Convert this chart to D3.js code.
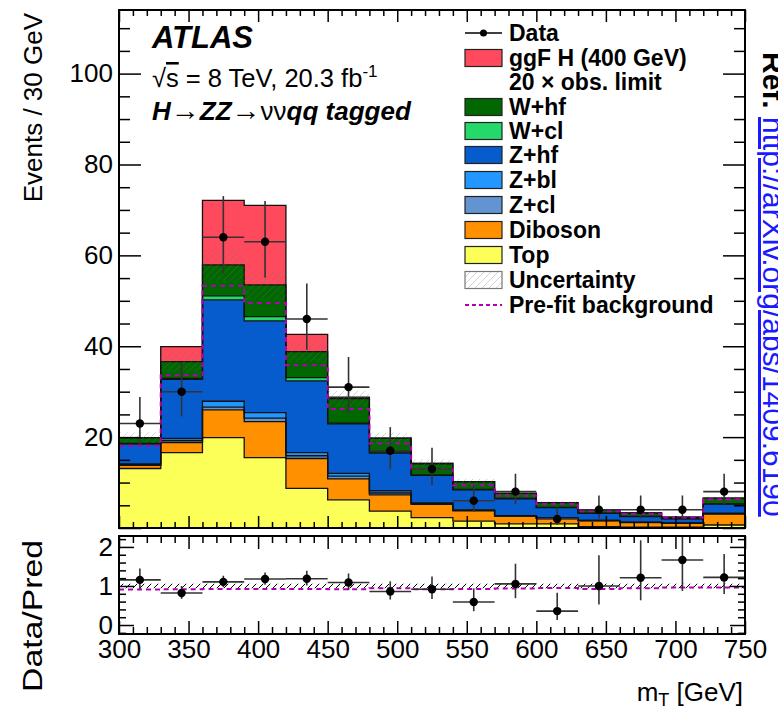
<!DOCTYPE html>
<html>
<head>
<meta charset="utf-8">
<script src="https://cdn.jsdelivr.net/npm/d3@7"></script>
<style>
  body { margin: 0; background: #fff; }
  svg { display: block; font-family: "Liberation Sans", Arial, Helvetica, sans-serif; }
</style>
</head>
<body>
<svg id="chart" width="778" height="710"></svg>
<script>
// ---- binning (m_T in GeV, 30 GeV bins) ----
const binLow = [300, 330, 360, 390, 420, 450, 480, 510, 540, 570, 600, 630, 660, 690, 720];
const binWidth = 30;

// ---- observed events ----
const dataCounts  = [23, 30, 64, 63, 46, 31, 17, 13, 6, 8, 2, 4, 4, 4, 8];
const dataErrUp   = [5.85, 6.55, 9.05, 8.98, 7.81, 6.64, 5.20, 4.67, 3.58, 3.94, 2.64, 3.16, 3.16, 3.16, 3.94];
const dataErrDown = [4.77, 5.46, 8.00, 7.93, 6.76, 5.55, 4.08, 3.56, 2.38, 2.77, 1.29, 1.91, 1.91, 1.91, 2.77];

// ---- post-fit background components (stacked bottom to top) ----
const topBkg  = [13.1, 16.6, 19.9, 15.5, 8.7, 6.2, 3.7, 2.3, 1.5, 0.9, 0.9, 0.3, 0.2, 0.2, 0.66];
const diboson = [0.7, 2.2, 6.1, 7.9, 6.6, 4.6, 3.6, 2.9, 2.3, 1.7, 1.2, 1.3, 1.0, 0.8, 2.4];
const zcl     = [0.15, 0.4, 0.6, 0.8, 0.6, 0.6, 0.4, 0.15, 0.1, 0.05, 0.05, 0.05, 0.05, 0.05, 0.1];
const zbl     = [0.15, 0.5, 1.3, 1.2, 0.7, 0.6, 0.5, 0.15, 0.1, 0.05, 0.05, 0.05, 0.05, 0.05, 0.1];
const zhf     = [4.4, 13.0, 22.3, 20.2, 15.8, 10.9, 8.3, 6.1, 4.4, 3.7, 2.3, 1.5, 1.2, 0.9, 2.0];
const wcl     = [0.1, 0.2, 0.9, 0.9, 0.7, 0.2, 0.2, 0.1, 0.1, 0.1, 0.05, 0.05, 0.05, 0.05, 0.05];
const whf     = [1.3, 3.7, 6.8, 7.0, 5.7, 5.4, 3.1, 2.5, 1.7, 1.1, 1.05, 0.75, 0.75, 0.35, 1.25];
// ggF H (400 GeV) scaled to 20 x observed limit
const signal  = [0, 3.3, 14.2, 17.5, 3.8, 0.3, 0, 0, 0, 0, 0, 0, 0, 0, 0];
// pre-fit total background
const prefit  = [18.1, 33.6, 53.3, 49.5, 35.8, 26.2, 18.6, 13.0, 9.4, 7.1, 5.3, 3.7, 3.1, 2.3, 6.3];
// relative background uncertainty
const bkgRelUnc = [0.06, 0.06, 0.06, 0.06, 0.06, 0.06, 0.06, 0.06, 0.06, 0.06, 0.06, 0.06, 0.06, 0.06, 0.06];

// ---- axis ticks ----
const xMajor = [300, 350, 400, 450, 500, 550, 600, 650, 700, 750];
const yMainLabels = [20, 40, 60, 80, 100];
const yRatioLabels = [0, 1, 2];

// ---- components, colours, legend ----
const components = [
  { key: "Top",     values: topBkg,  color: "#fbff57" },
  { key: "Diboson", values: diboson, color: "#ff9100" },
  { key: "Z+cl",    values: zcl,     color: "#6194d0" },
  { key: "Z+bl",    values: zbl,     color: "#2297ff" },
  { key: "Z+hf",    values: zhf,     color: "#075ccd" },
  { key: "W+cl",    values: wcl,     color: "#24d86a" },
  { key: "W+hf",    values: whf,     color: "#016701" },
  { key: "ggF H",   values: signal,  color: "#ff4a5d" }
];
const legendItems = [
  { type: "data",  label: "Data" },
  { type: "box",   label: "ggF H (400 GeV)", color: "#ff4a5d" },
  { type: "none",  label: "20 \u00d7 obs. limit" },
  { type: "box",   label: "W+hf",     color: "#016701" },
  { type: "box",   label: "W+cl",     color: "#24d86a" },
  { type: "box",   label: "Z+hf",     color: "#075ccd" },
  { type: "box",   label: "Z+bl",     color: "#2297ff" },
  { type: "box",   label: "Z+cl",     color: "#6194d0" },
  { type: "box",   label: "Diboson",  color: "#ff9100" },
  { type: "box",   label: "Top",      color: "#fbff57" },
  { type: "hatch", label: "Uncertainty" },
  { type: "dash",  label: "Pre-fit background" }
];

const svg = d3.select("#chart");
const frameL = 119, frameR = 745;
const mainTop = 10, mainBot = 528;
const ratTop = 536, ratBot = 634;
const prefitColor = "#b300b3";

const x = d3.scaleLinear().domain([300, 750]).range([frameL, frameR]);
const yMain = d3.scaleLinear().domain([0, 114]).range([mainBot, mainTop]);
const yRat = d3.scaleLinear().domain([-0.23, 2.28]).range([ratBot, ratTop]);

// hatch patterns
const defs = svg.append("defs");
function hatch(id, color, w) {
  const p = defs.append("pattern").attr("id", id).attr("patternUnits", "userSpaceOnUse")
    .attr("width", 7).attr("height", 7);
  p.append("path").attr("d", "M-1,1 l2,-2 M0,7 l7,-7 M6,8 l2,-2")
    .attr("stroke", color).attr("stroke-width", w);
}
hatch("hatchMain", "rgba(110,110,110,0.3)", 1);
hatch("hatchRatio", "#000", 1);
defs.append("clipPath").attr("id", "clipMain").append("rect")
  .attr("x", frameL).attr("y", mainTop).attr("width", frameR - frameL).attr("height", mainBot - mainTop);
defs.append("clipPath").attr("id", "clipRatio").append("rect")
  .attr("x", frameL).attr("y", ratTop).attr("width", frameR - frameL).attr("height", ratBot - ratTop);

// step helper: one point per bin plus the closing edge
function stepPts(arr, f) {
  const pts = arr.map((v, i) => ({ x: binLow[i], v: f ? f(v, i) : v }));
  pts.push({ x: binLow[binLow.length - 1] + binWidth, v: pts[pts.length - 1].v });
  return pts;
}

// ---- main panel ----
const rows = binLow.map((b, i) => {
  const r = { bin: b };
  components.forEach(c => r[c.key] = c.values[i]);
  return r;
});
const stacked = d3.stack().keys(components.map(c => c.key))(rows);

const gMain = svg.append("g").attr("clip-path", "url(#clipMain)");
const areaStep = d3.area().curve(d3.curveStepAfter)
  .x(d => x(d.x)).y0(d => yMain(d.lo)).y1(d => yMain(d.hi));
const lineStepMain = d3.line().curve(d3.curveStepAfter).x(d => x(d.x)).y(d => yMain(d.v));

stacked.forEach((s, k) => {
  const pts = s.map((d, i) => ({ x: binLow[i], lo: d[0], hi: d[1] }));
  pts.push({ x: 750, lo: pts[pts.length - 1].lo, hi: pts[pts.length - 1].hi });
  gMain.append("path").attr("d", areaStep(pts)).attr("fill", components[k].color);
});
stacked.forEach(s => {
  const pts = stepPts(s.map(d => d[1]));
  gMain.append("path").attr("d", lineStepMain(pts)).attr("fill", "none")
    .attr("stroke", "#111").attr("stroke-width", 1.3);
});

const bkgTotal = binLow.map((b, i) =>
  topBkg[i] + diboson[i] + zcl[i] + zbl[i] + zhf[i] + wcl[i] + whf[i]);

// uncertainty band on total background
const bandPts = bkgTotal.map((t, i) => ({ x: binLow[i], lo: t * (1 - bkgRelUnc[i]), hi: t * (1 + bkgRelUnc[i]) }));
bandPts.push({ x: 750, lo: bandPts[14].lo, hi: bandPts[14].hi });
gMain.append("path").attr("d", areaStep(bandPts)).attr("fill", "url(#hatchMain)");

// pre-fit background
gMain.append("path").attr("d", lineStepMain(stepPts(prefit))).attr("fill", "none")
  .attr("stroke", prefitColor).attr("stroke-width", 2).attr("stroke-dasharray", "5,4");

// data
const gData = gMain.append("g");
dataCounts.forEach((n, i) => {
  const cx = x(binLow[i] + binWidth / 2);
  gData.append("line").attr("x1", x(binLow[i])).attr("x2", x(binLow[i] + binWidth))
    .attr("y1", yMain(n)).attr("y2", yMain(n)).attr("stroke", "#333").attr("stroke-width", 1.6);
  gData.append("line").attr("x1", cx).attr("x2", cx)
    .attr("y1", yMain(n - dataErrDown[i])).attr("y2", yMain(n + dataErrUp[i]))
    .attr("stroke", "#333").attr("stroke-width", 1.6);
  gData.append("circle").attr("cx", cx).attr("cy", yMain(n)).attr("r", 4.2).attr("fill", "#000");
});

// ---- ratio panel ----
const gRat = svg.append("g").attr("clip-path", "url(#clipRatio)");
const areaRat = d3.area().curve(d3.curveStepAfter)
  .x(d => x(d.x)).y0(d => yRat(d.lo)).y1(d => yRat(d.hi));
const lineRat = d3.line().curve(d3.curveStepAfter).x(d => x(d.x)).y(d => yRat(d.v));
const ratBand = bkgRelUnc.map((u, i) => ({ x: binLow[i], lo: 1 - u, hi: 1 + u }));
ratBand.push({ x: 750, lo: ratBand[14].lo, hi: ratBand[14].hi });
gRat.append("path").attr("d", areaRat(ratBand)).attr("fill", "url(#hatchRatio)");
gRat.append("path").attr("d", lineRat(stepPts(prefit, (v, i) => v / bkgTotal[i])))
  .attr("fill", "none").attr("stroke", prefitColor).attr("stroke-width", 2).attr("stroke-dasharray", "5,4");
dataCounts.forEach((n, i) => {
  const b = bkgTotal[i];
  const r = n / b;
  const cx = x(binLow[i] + binWidth / 2);
  gRat.append("line").attr("x1", x(binLow[i])).attr("x2", x(binLow[i] + binWidth))
    .attr("y1", yRat(r)).attr("y2", yRat(r)).attr("stroke", "#333").attr("stroke-width", 1.6);
  gRat.append("line").attr("x1", cx).attr("x2", cx)
    .attr("y1", yRat(r - dataErrDown[i] / b)).attr("y2", yRat(r + dataErrUp[i] / b))
    .attr("stroke", "#333").attr("stroke-width", 1.6);
  gRat.append("circle").attr("cx", cx).attr("cy", yRat(r)).attr("r", 4.2).attr("fill", "#000");
});

// ---- axes (ticks pointing inward, ROOT style) ----
function ticks(axisGen, scale, values, len, pos, fmt, fontSize, pad) {
  const a = axisGen(scale).tickValues(values).tickSizeInner(-len).tickSizeOuter(0)
    .tickPadding(pad || 8).tickFormat(fmt || (() => ""));
  const g = svg.append("g").attr("transform", pos).call(a);
  g.select(".domain").remove();
  g.selectAll("line").attr("stroke", "#000").attr("stroke-width", 1.5);
  g.selectAll("text").attr("fill", "#000").attr("font-size", fontSize || 26)
    .attr("font-family", "'Liberation Sans', Arial, Helvetica, sans-serif");
  return g;
}
const xMinor = d3.range(300, 751, 10).filter(v => v % 50 !== 0);
const yMainMajor = [0].concat(yMainLabels);
const yMainMinor = d3.range(5, 114, 5).filter(v => v % 20 !== 0);
const yRatMajor = yRatioLabels;
const yRatMinor = [-0.2, 0.2, 0.4, 0.6, 0.8, 1.2, 1.4, 1.6, 1.8, 2.2];

// main panel
ticks(d3.axisBottom, x, xMajor, 12, `translate(0,${mainBot})`);
ticks(d3.axisBottom, x, xMinor, 6, `translate(0,${mainBot})`);
ticks(d3.axisTop, x, xMajor, 12, `translate(0,${mainTop})`);
ticks(d3.axisTop, x, xMinor, 6, `translate(0,${mainTop})`);
ticks(d3.axisLeft, yMain, yMainMajor, 22, `translate(${frameL},0)`, d => d === 0 ? "" : d, 26, 6);
ticks(d3.axisLeft, yMain, yMainMinor, 11, `translate(${frameL},0)`);
ticks(d3.axisRight, yMain, yMainMajor, 22, `translate(${frameR},0)`);
ticks(d3.axisRight, yMain, yMainMinor, 11, `translate(${frameR},0)`);

// ratio panel
ticks(d3.axisBottom, x, xMajor, 13, `translate(0,${ratBot})`, d => d, 26, 6);
ticks(d3.axisBottom, x, xMinor, 7, `translate(0,${ratBot})`);
ticks(d3.axisTop, x, xMajor, 13, `translate(0,${ratTop})`);
ticks(d3.axisTop, x, xMinor, 7, `translate(0,${ratTop})`);
ticks(d3.axisLeft, yRat, yRatMajor, 15, `translate(${frameL},0)`, d => d, 26, 6);
ticks(d3.axisLeft, yRat, yRatMinor, 7, `translate(${frameL},0)`);
ticks(d3.axisRight, yRat, yRatMajor, 15, `translate(${frameR},0)`);
ticks(d3.axisRight, yRat, yRatMinor, 7, `translate(${frameR},0)`);

// frames
[[mainTop, mainBot], [ratTop, ratBot]].forEach(([t, b]) => {
  svg.append("rect").attr("x", frameL).attr("y", t).attr("width", frameR - frameL).attr("height", b - t)
    .attr("fill", "none").attr("stroke", "#000").attr("stroke-width", 2);
});

// axis titles
svg.append("text").attr("transform", "translate(42,13) rotate(-90)")
  .attr("text-anchor", "end").attr("font-size", 26).text("Events / 30 GeV");
svg.append("text").attr("transform", "translate(42,540) rotate(-90)")
  .attr("text-anchor", "end").attr("font-size", 28)
  .attr("textLength", 152).attr("lengthAdjust", "spacingAndGlyphs").text("Data/Pred");
const xt = svg.append("text").attr("x", 743).attr("y", 701).attr("text-anchor", "end").attr("font-size", 26);
xt.append("tspan").text("m");
xt.append("tspan").attr("font-size", 18).attr("dy", 5).text("T");
xt.append("tspan").attr("dy", -5).text(" [GeV]");

// ---- labels ----
svg.append("text").attr("x", 152).attr("y", 48).attr("font-size", 31)
  .attr("font-weight", "bold").attr("font-style", "italic").text("ATLAS");
const lumi = svg.append("text").attr("x", 152).attr("y", 87).attr("font-size", 25.5);
lumi.append("tspan").text("\u221a");
lumi.append("tspan").style("text-decoration", "overline").text("s");
lumi.append("tspan").text(" = 8 TeV, 20.3 fb");
lumi.append("tspan").attr("font-size", 17).attr("dy", -10).text("-1");
const chan = svg.append("text").attr("x", 152).attr("y", 120).attr("font-size", 26)
  .attr("font-weight", "bold").attr("font-style", "italic");
chan.append("tspan").text("H");
chan.append("tspan").attr("font-weight", "normal").attr("font-style", "normal").attr("font-size", 29).text("\u2192");
chan.append("tspan").text("ZZ");
chan.append("tspan").attr("font-weight", "normal").attr("font-style", "normal").attr("font-size", 29).text("\u2192");
chan.append("tspan").attr("font-weight", "normal").attr("font-style", "normal").text("\u03bd\u03bd");
chan.append("tspan").text("qq tagged");

// ---- legend ----
const lg = svg.append("g").attr("font-size", 23).attr("font-weight", "bold");
const rowY = [33, 58, 82, 107, 131, 155, 180, 205, 230, 255, 280, 305];
const bx0 = 465, bx1 = 502;
legendItems.forEach((it, i) => {
  const y = rowY[i];
  if (it.type === "data") {
    lg.append("line").attr("x1", bx0).attr("x2", bx1).attr("y1", y).attr("y2", y)
      .attr("stroke", "#000").attr("stroke-width", 1.5);
    lg.append("circle").attr("cx", (bx0 + bx1) / 2).attr("cy", y).attr("r", 3.5);
  } else if (it.type === "box") {
    lg.append("rect").attr("x", bx0).attr("y", y - 8.5).attr("width", bx1 - bx0).attr("height", 17)
      .attr("fill", it.color).attr("stroke", "#222").attr("stroke-width", 1.2);
  } else if (it.type === "hatch") {
    lg.append("rect").attr("x", bx0).attr("y", y - 8.5).attr("width", bx1 - bx0).attr("height", 17)
      .attr("fill", "url(#hatchMain)").attr("stroke", "#777").attr("stroke-width", 1.2);
  } else if (it.type === "dash") {
    lg.append("line").attr("x1", bx0).attr("x2", bx1).attr("y1", y).attr("y2", y)
      .attr("stroke", prefitColor).attr("stroke-width", 2).attr("stroke-dasharray", "4,3");
  }
  lg.append("text").attr("x", 509).attr("y", y).attr("dy", "0.36em").text(it.label);
});

// reference link along the right edge
const ref = svg.append("text").attr("transform", "translate(763,52) rotate(90)").attr("font-size", 30);
ref.append("tspan").attr("fill", "#000").attr("font-weight", "bold").text("Ref. ");
ref.append("tspan").attr("fill", "#1a1aff").style("text-decoration", "underline")
  .text("http://arXiv.org/abs/1409.6190");
</script>
</body>
</html>
